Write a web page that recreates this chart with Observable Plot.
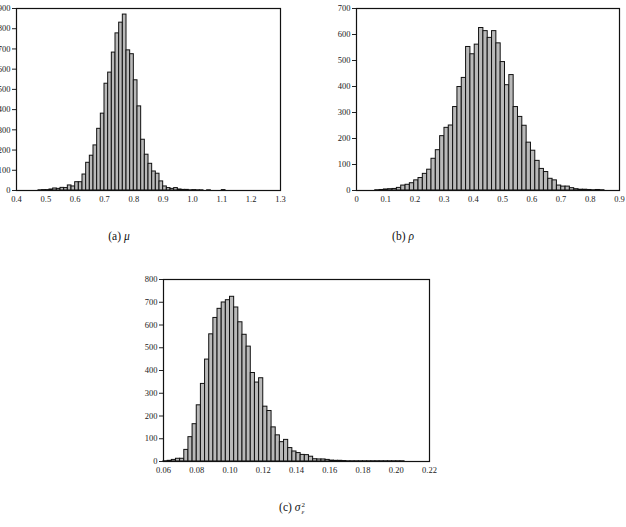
<!DOCTYPE html>
<html>
<head>
<meta charset="utf-8">
<script src="https://cdn.jsdelivr.net/npm/d3@7"></script>
<script src="https://cdn.jsdelivr.net/npm/@observablehq/plot@0.6"></script>
<style>
  html, body { margin: 0; padding: 0; background: #fff; }
  body { width: 626px; height: 527px; position: relative; overflow: hidden; font-family: "Liberation Serif", "DejaVu Serif", serif; }
  .panel { position: absolute; }
  .panel svg, .panel svg text { font-family: "Liberation Serif", "DejaVu Serif", serif !important; }
  .cap { position: absolute; font-size: 11.5px; color: #111; white-space: nowrap; transform: translateX(-50%); font-family: "Liberation Serif", "DejaVu Serif", serif; }
  .cap i { font-style: italic; }
  .ss { display: inline-block; vertical-align: -3px; line-height: 7px; font-size: 7px; margin-left: 1px; }
</style>
</head>
<body>
<div id="pa" class="panel" style="left:-14px; top:0px;"></div>
<div id="pb" class="panel" style="left:326px; top:0px;"></div>
<div id="pc" class="panel" style="left:133px; top:271px;"></div>
<div class="cap" style="left:119px; top:230px;">(a) <i>μ</i></div>
<div class="cap" style="left:403px; top:230px;">(b) <i>ρ</i></div>
<div class="cap" style="left:292px; top:501px;">(c) <i>σ</i><span class="ss">2<br><i>ε</i></span></div>
<script>
// ---- Panel (a): mu ----
const muBinStart = 0.475;
const muBinWidth = 0.0125;
const muCounts = [1, 2, 2, 5, 10, 8, 13, 12, 25, 20, 41, 41, 79, 137, 172, 223, 305, 380, 528, 583, 682, 777, 830, 870, 693, 674, 545, 416, 251, 177, 132, 94, 83, 45, 20, 12, 8, 12, 5, 3, 3, 1, 2, 1, 1, 0, 1, 0, 0, 0, 2];
const muXTicks = [0.4, 0.5, 0.6, 0.7, 0.8, 0.9, 1.0, 1.1, 1.2, 1.3];
const muXLabels = ["0.4", "0.5", "0.6", "0.7", "0.8", "0.9", "1.0", "1.1", "1.2", "1.3"];
const muYTicks = [0, 100, 200, 300, 400, 500, 600, 700, 800, 900];

// ---- Panel (b): rho ----
const rhoBinStart = 0.0642;
const rhoBinWidth = 0.0148;
const rhoCounts = [1, 2, 4, 5, 6, 10, 19, 22, 28, 39, 48, 64, 80, 122, 155, 209, 241, 250, 321, 398, 433, 552, 524, 561, 625, 613, 587, 613, 566, 494, 405, 444, 321, 283, 249, 184, 153, 114, 83, 71, 45, 39, 19, 15, 15, 9, 5, 3, 3, 2, 1, 2, 1];
const rhoXTicks = [0, 0.1, 0.2, 0.3, 0.4, 0.5, 0.6, 0.7, 0.8, 0.9];
const rhoXLabels = ["0", "0.1", "0.2", "0.3", "0.4", "0.5", "0.6", "0.7", "0.8", "0.9"];
const rhoYTicks = [0, 100, 200, 300, 400, 500, 600, 700];

// ---- Panel (c): sigma^2_epsilon ----
const sigBinStart = 0.06;
const sigBinWidth = 0.0025;
const sigCounts = [1, 3, 7, 12, 12, 51, 107, 164, 247, 341, 448, 559, 631, 671, 699, 709, 724, 677, 612, 557, 505, 389, 347, 366, 241, 222, 150, 115, 85, 95, 59, 44, 37, 29, 28, 21, 10, 9, 9, 7, 4, 3, 3, 2, 1, 1, 1, 1, 1, 1, 1, 1, 1, 1, 1, 1, 1, 1];
const sigXTicks = [0.06, 0.08, 0.10, 0.12, 0.14, 0.16, 0.18, 0.20, 0.22];
const sigXLabels = ["0.06", "0.08", "0.10", "0.12", "0.14", "0.16", "0.18", "0.20", "0.22"];
const sigYTicks = [0, 100, 200, 300, 400, 500, 600, 700, 800];

function bins(start, width, counts) {
  return counts.map((c, i) => ({x1: start + i * width, x2: start + (i + 1) * width, y: c}));
}

function hist({data, xDomain, xTicks, xLabels, yDomain, yTicks, plotW, marginRight}) {
  const fmt = new Map(xTicks.map((t, i) => [t, xLabels[i]]));
  return Plot.plot({
    width: 30 + plotW + marginRight,
    height: 8 + 182 + 20,
    marginLeft: 30,
    marginRight: marginRight,
    marginTop: 8,
    marginBottom: 20,
    style: {fontFamily: "'Liberation Serif', 'DejaVu Serif', serif", fontSize: "8.5px", color: "#222", background: "white"},
    x: {domain: xDomain, ticks: xTicks, tickFormat: d => fmt.get(d) ?? "", tickSize: 0, tickPadding: 5, label: null},
    y: {domain: yDomain, ticks: yTicks, tickFormat: d => String(d), tickSize: 4, tickPadding: 2, label: null},
    marks: [
      Plot.rectY(data.filter(d => d.y > 0), {x1: "x1", x2: "x2", y: "y", fill: "#b9b9b9", stroke: "#111", strokeWidth: 1}),
      Plot.frame({stroke: "#111", strokeWidth: 1.2})
    ]
  });
}

document.getElementById("pa").appendChild(hist({
  data: bins(muBinStart, muBinWidth, muCounts),
  xDomain: [0.4, 1.3], xTicks: muXTicks, xLabels: muXLabels,
  yDomain: [0, 900], yTicks: muYTicks, plotW: 264, marginRight: 12
}));
document.getElementById("pb").appendChild(hist({
  data: bins(rhoBinStart, rhoBinWidth, rhoCounts),
  xDomain: [0, 0.9], xTicks: rhoXTicks, xLabels: rhoXLabels,
  yDomain: [0, 700], yTicks: rhoYTicks, plotW: 263, marginRight: 7
}));
document.getElementById("pc").appendChild(hist({
  data: bins(sigBinStart, sigBinWidth, sigCounts),
  xDomain: [0.06, 0.22], xTicks: sigXTicks, xLabels: sigXLabels,
  yDomain: [0, 800], yTicks: sigYTicks, plotW: 266, marginRight: 12
}));
</script>
</body>
</html>
